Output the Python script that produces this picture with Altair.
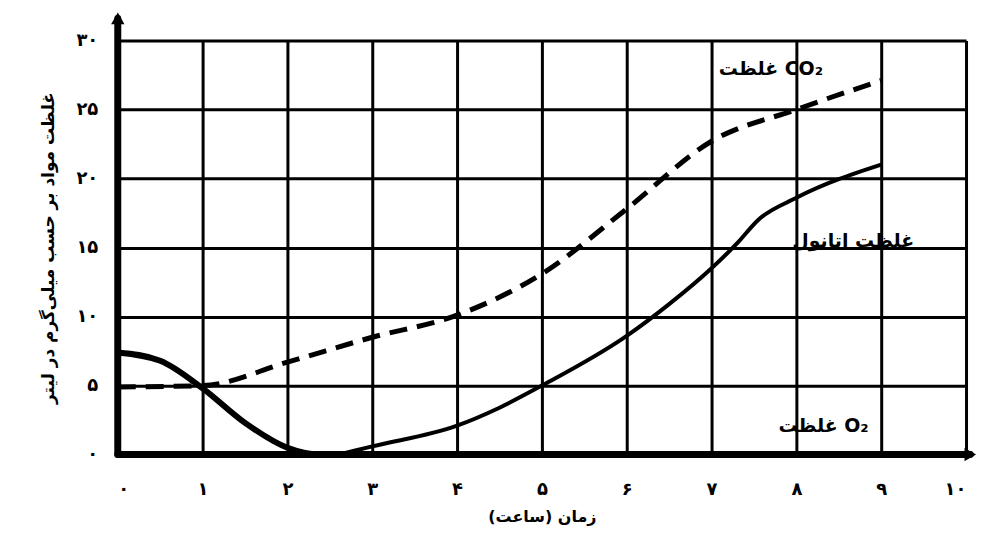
import altair as alt
import pandas as pd

# ---- data ----
o2_x = [0, 0.5, 1, 1.5, 2, 2.4, 3, 4, 5, 6, 7, 8, 9]
o2_y = [7.4, 6.8, 4.8, 2.3, 0.5, 0, 0, 0, 0, 0, 0, 0, 0]

eth_x = [2.6, 3, 4, 4.5, 5, 6, 6.5, 7, 7.3, 7.55, 8, 9]
eth_y = [0, 0.6, 2.1, 3.4, 5.0, 8.6, 10.9, 13.5, 15.3, 17.0, 18.6, 21.0]

co2_x = [0, 1, 2, 3, 4, 5, 6, 7, 8, 9]
co2_y = [4.9, 5.0, 6.7, 8.5, 10.1, 13.1, 17.8, 22.7, 25.0, 27.1]

x_ticks = [0, 1, 2, 3, 4, 5, 6, 7, 8, 9, 10]
x_tick_labels = ["۰", "۱", "۲", "۳", "۴", "۵", "۶", "۷", "۸", "۹", "۱۰"]
y_ticks = [0, 5, 10, 15, 20, 25, 30]
y_tick_labels = ["۰", "۵", "۱۰", "۱۵", "۲۰", "۲۵", "۳۰"]

label_text = ["غلظت CO₂", "غلظت اتانول", "غلظت O₂"]
label_x = [7.7, 8.67, 8.32]
label_y = [27.9, 15.5, 2.1]

x_title = "زمان (ساعت)"
y_title = "غلظت مواد بر حسب میلی‌گرم در لیتر"

FONT = "DejaVu Sans"

o2 = pd.DataFrame({"x": o2_x, "y": o2_y})
eth = pd.DataFrame({"x": eth_x, "y": eth_y})
co2 = pd.DataFrame({"x": co2_x, "y": co2_y})
labels = pd.DataFrame({"t": label_text, "x": label_x, "y": label_y})

xmap = "{" + ",".join(f"'{v}':'{l}'" for v, l in zip(x_ticks, x_tick_labels)) + "}"
ymap = "{" + ",".join(f"'{v}':'{l}'" for v, l in zip(y_ticks, y_tick_labels)) + "}"

xs = alt.Scale(domain=[0, 10], nice=False, zero=False)
ys = alt.Scale(domain=[0, 30], nice=False)

xaxis = alt.Axis(values=x_ticks, labelExpr=f"{xmap}[datum.value]", title=x_title,
                 grid=True, gridColor="black", gridWidth=3, gridOpacity=1,
                 domain=False, ticks=False, labelFont=FONT, labelFontSize=18,
                 labelFontWeight="bold", labelPadding=26, titleFont=FONT,
                 titleFontSize=16, titleFontWeight="bold", titlePadding=10)
yaxis = alt.Axis(values=y_ticks, labelExpr=f"{ymap}[datum.value]", title=y_title,
                 grid=True, gridColor="black", gridWidth=3, gridOpacity=1,
                 domain=False, ticks=False, labelFont=FONT, labelFontSize=18,
                 labelFontWeight="bold", labelPadding=20, titleFont=FONT,
                 titleFontSize=17, titleFontWeight="bold", titlePadding=18)

base_x = alt.X("x:Q", scale=xs, axis=xaxis)
base_y = alt.Y("y:Q", scale=ys, axis=yaxis)

grid = alt.Chart(o2).mark_line(opacity=0).encode(x=base_x, y=base_y)

o2_line = alt.Chart(o2).mark_line(color="black", strokeWidth=6, interpolate="monotone").encode(
    x=alt.X("x:Q", scale=xs), y=alt.Y("y:Q", scale=ys))
eth_line = alt.Chart(eth).mark_line(color="black", strokeWidth=4, interpolate="monotone").encode(
    x=alt.X("x:Q", scale=xs), y=alt.Y("y:Q", scale=ys))
co2_line = alt.Chart(co2).mark_line(color="black", strokeWidth=5, strokeDash=[18, 10],
                                     interpolate="monotone").encode(
    x=alt.X("x:Q", scale=xs), y=alt.Y("y:Q", scale=ys))

axes_df = pd.DataFrame({"x0": [0, 0], "y0": [0, 0], "x1": [0, 10.05], "y1": [31.6, 0]})
axes = alt.Chart(axes_df).mark_rule(color="black", strokeWidth=7, strokeCap="round").encode(
    x=alt.X("x0:Q", scale=xs), y=alt.Y("y0:Q", scale=ys), x2="x1:Q", y2="y1:Q")

arrows_df = pd.DataFrame({"x": [0, 10.05], "y": [31.6, 0], "s": ["triangle-up", "triangle-right"]})
arrows = alt.Chart(arrows_df).mark_point(filled=True, color="black", size=180, opacity=1).encode(
    x=alt.X("x:Q", scale=xs), y=alt.Y("y:Q", scale=ys),
    shape=alt.Shape("s:N", scale=None, legend=None))

text = alt.Chart(labels).mark_text(font=FONT, fontSize=19, fontWeight="bold", color="black",
                                   align="center", baseline="middle").encode(
    x=alt.X("x:Q", scale=xs), y=alt.Y("y:Q", scale=ys), text="t:N")

chart = alt.layer(grid, co2_line, eth_line, o2_line, axes, arrows, text).properties(
    width=850, height=415, autosize="none",
    padding={"left": 110, "top": 32, "right": 12, "bottom": 74},
).configure_view(stroke=None).configure(background="white")

chart.save("out.html", embed_options={"renderer": "svg", "actions": False})
